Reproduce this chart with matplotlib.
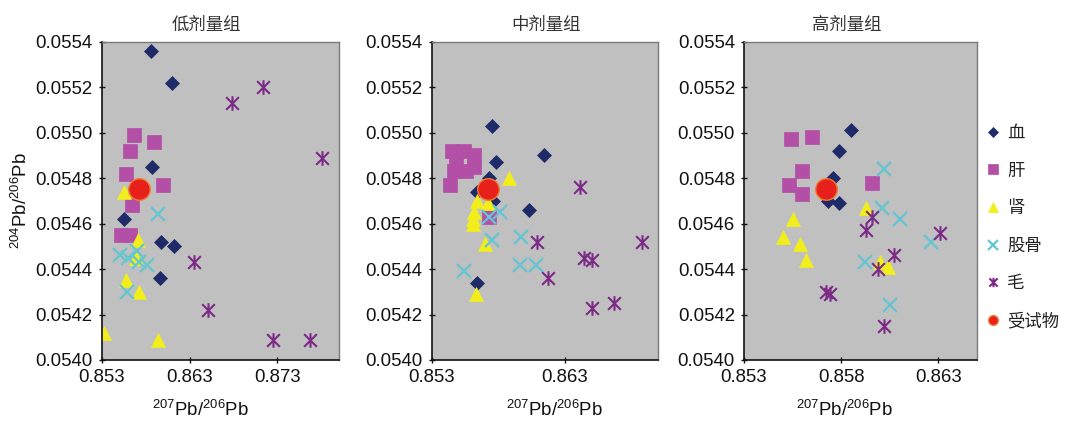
import matplotlib
matplotlib.use("Agg")
import matplotlib.pyplot as plt
from matplotlib.path import Path

plt.rcParams['font.family'] = ['Liberation Sans', 'Noto Sans CJK SC', 'DejaVu Sans']
plt.rcParams['mathtext.fontset'] = 'custom'
plt.rcParams['mathtext.rm'] = 'Liberation Sans'

# ---------------- data ----------------
panel_titles = ["低剂量组", "中剂量组", "高剂量组"]
series_names = ["血", "肝", "肾", "股骨", "毛", "受试物"]

y_ticks = [0.0540, 0.0542, 0.0544, 0.0546, 0.0548, 0.0550, 0.0552, 0.0554]
y_ticklabels = ["0.0540", "0.0542", "0.0544", "0.0546", "0.0548", "0.0550", "0.0552", "0.0554"]

low_xticks = [0.853, 0.863, 0.873]
mid_xticks = [0.853, 0.863]
high_xticks = [0.853, 0.858, 0.863]

# test substance (same in all panels)
test_x = [0.8572]
test_y = [0.05475]

# low dose
low_blood_x = [0.8586, 0.8610, 0.8587, 0.8555, 0.8597, 0.8612, 0.8596]
low_blood_y = [0.05536, 0.05522, 0.05485, 0.05462, 0.05452, 0.05450, 0.05436]
low_liver_x = [0.8567, 0.8589, 0.8562, 0.8558, 0.8600, 0.8564, 0.8552, 0.8562]
low_liver_y = [0.05499, 0.05496, 0.05492, 0.05482, 0.05477, 0.05468, 0.05455, 0.05455]
low_kidney_x = [0.8555, 0.8571, 0.8569, 0.8558, 0.8573, 0.8533, 0.8594]
low_kidney_y = [0.05474, 0.05453, 0.05445, 0.05435, 0.05430, 0.05412, 0.05409]
low_femur_x = [0.8594, 0.8551, 0.8560, 0.8570, 0.8572, 0.8581, 0.8559]
low_femur_y = [0.05464, 0.05446, 0.05445, 0.05448, 0.05443, 0.05442, 0.05430]
low_hair_x = [0.8678, 0.8713, 0.8781, 0.8635, 0.8651, 0.8725, 0.8767]
low_hair_y = [0.05513, 0.05520, 0.05489, 0.05443, 0.05422, 0.05409, 0.05409]

# middle dose
mid_blood_x = [0.8575, 0.8578, 0.8614, 0.8603, 0.8564, 0.8573, 0.8576, 0.8564]
mid_blood_y = [0.05503, 0.05487, 0.05490, 0.05466, 0.05434, 0.05480, 0.05470, 0.05474]
mid_liver_x = [0.8545, 0.8554, 0.8562, 0.8548, 0.8547, 0.8556, 0.8562, 0.8544, 0.8573]
mid_liver_y = [0.05492, 0.05492, 0.05490, 0.05487, 0.05483, 0.05483, 0.05485, 0.05477, 0.05463]
mid_kidney_x = [0.8588, 0.8564, 0.8562, 0.8561, 0.8561, 0.8572, 0.8570, 0.8563]
mid_kidney_y = [0.05480, 0.05470, 0.05465, 0.05462, 0.05460, 0.05469, 0.05451, 0.05429]
mid_femur_x = [0.8581, 0.8575, 0.8597, 0.8554, 0.8596, 0.8608, 0.8573]
mid_femur_y = [0.05465, 0.05453, 0.05454, 0.05439, 0.05442, 0.05442, 0.05463]
mid_hair_x = [0.8641, 0.8609, 0.8644, 0.8650, 0.8617, 0.8650, 0.8667, 0.8688]
mid_hair_y = [0.05476, 0.05452, 0.05445, 0.05444, 0.05436, 0.05423, 0.05425, 0.05452]

# high dose
high_blood_x = [0.8585, 0.8579, 0.8576, 0.8573, 0.8579]
high_blood_y = [0.05501, 0.05492, 0.05480, 0.05470, 0.05469]
high_liver_x = [0.8554, 0.8565, 0.8560, 0.8553, 0.8560, 0.8596]
high_liver_y = [0.05497, 0.05498, 0.05483, 0.05477, 0.05473, 0.05478]
high_kidney_x = [0.8593, 0.8555, 0.8550, 0.8559, 0.8562, 0.8600, 0.8604]
high_kidney_y = [0.05467, 0.05462, 0.05454, 0.05451, 0.05444, 0.05443, 0.05441]
high_femur_x = [0.8602, 0.8601, 0.8610, 0.8626, 0.8592, 0.8605]
high_femur_y = [0.05484, 0.05467, 0.05462, 0.05452, 0.05443, 0.05424]
high_hair_x = [0.8596, 0.8593, 0.8631, 0.8607, 0.8599, 0.8602, 0.8572, 0.8574]
high_hair_y = [0.05463, 0.05457, 0.05456, 0.05446, 0.05440, 0.05415, 0.05430, 0.05429]

# ---------------- styles ----------------
star_path = Path([(-1, -1), (1, 1), (-1, 1), (1, -1), (0, -1.15), (0, 1.15)],
                 [Path.MOVETO, Path.LINETO, Path.MOVETO, Path.LINETO, Path.MOVETO, Path.LINETO])

styles = [
    dict(marker='D', ms=7.3, mfc='#1f2a68', mec='#1f2a68', mew=0.5),
    dict(marker='s', ms=9.4, mfc='#b34fa6', mec='#b34fa6', mew=0.5),
    dict(marker='^', ms=9.8, mfc='#f2ee1c', mec='#f2ee1c', mew=0.5),
    dict(marker='x', ms=9.5, mfc='none', mec='#64c6d0', mew=1.6),
    dict(marker=star_path, ms=10.5, mfc='none', mec='#7b2a86', mew=1.5),
    dict(marker='o', ms=15.5, mfc='#e8201c', mec='#f07a30', mew=1.0),
]
legend_marker_sizes = [5.2, 6.8, 7.2, 6.8, 6.8, 7.0]

W, H = 1066, 422
fig = plt.figure(figsize=(W / 100, H / 100), dpi=100)

panels = [
    dict(rect=(101.7, 339.0), xlim=(0.853, 0.880), xticks=low_xticks,
         data=[(low_blood_x, low_blood_y), (low_liver_x, low_liver_y), (low_kidney_x, low_kidney_y),
               (low_femur_x, low_femur_y), (low_hair_x, low_hair_y), (test_x, test_y)],
         xlab_x=0.414, title_x=0.44),
    dict(rect=(431.7, 658.3), xlim=(0.853, 0.870), xticks=mid_xticks,
         data=[(mid_blood_x, mid_blood_y), (mid_liver_x, mid_liver_y), (mid_kidney_x, mid_kidney_y),
               (mid_femur_x, mid_femur_y), (mid_hair_x, mid_hair_y), (test_x, test_y)],
         xlab_x=0.54, title_x=0.505),
    dict(rect=(744.0, 977.3), xlim=(0.853, 0.865), xticks=high_xticks,
         data=[(high_blood_x, high_blood_y), (high_liver_x, high_liver_y), (high_kidney_x, high_kidney_y),
               (high_femur_x, high_femur_y), (high_hair_x, high_hair_y), (test_x, test_y)],
         xlab_x=0.431, title_x=0.44),
]

top_px, bot_px = 41.7, 360.0
handles = []
for i, p in enumerate(panels):
    l, r = p['rect']
    ax = fig.add_axes([l / W, 1 - bot_px / H, (r - l) / W, (bot_px - top_px) / H])
    ax.set_facecolor('#c0c0c0')
    for (xs, ys), st in zip(p['data'], styles):
        h, = ax.plot(xs, ys, linestyle='none', **st)
        if i == 2:
            handles.append(h)
    ax.set_xlim(*p['xlim'])
    ax.set_ylim(0.0540, 0.0554)
    ax.set_xticks(p['xticks'])
    ax.set_xticklabels([f"{v:.3f}" for v in p['xticks']])
    ax.set_yticks(y_ticks)
    ax.set_yticklabels(y_ticklabels)
    ax.tick_params(direction='inout', length=5, width=1, labelsize=13.4, colors='#111111', pad=4)
    for side in ['left', 'bottom']:
        ax.spines[side].set_color('#111111')
        ax.spines[side].set_linewidth(1.2)
    for side in ['top', 'right']:
        ax.spines[side].set_color('#7a7a7a')
        ax.spines[side].set_linewidth(1.0)
    ax.set_xlabel(r'$\mathregular{^{207}Pb/^{206}Pb}$', fontsize=13.4, color='#111111')
    ax.xaxis.set_label_coords(p['xlab_x'], -0.125)
    if i == 0:
        ax.set_ylabel(r'$\mathregular{^{204}Pb/^{206}Pb}$', fontsize=13.4, color='#111111')
        ax.yaxis.set_label_coords(-0.30, 0.5)
    ax.text(p['title_x'], 1.054, panel_titles[i], transform=ax.transAxes, ha='center', va='center',
            fontsize=12.5, color='#333333', family=['Noto Sans CJK SC', 'DejaVu Sans'])

leg = fig.legend(handles, series_names, loc='center left', bbox_to_anchor=(970 / W, 1 - 227 / H),
                 frameon=False, handlelength=0.9, handletextpad=0.35,
                 labelspacing=1.13, prop={'family': ['Noto Sans CJK SC', 'DejaVu Sans'], 'size': 12.5})
for lh, ms in zip(leg.legend_handles, legend_marker_sizes):
    lh.set_markersize(ms)
for t in leg.get_texts():
    t.set_color('#222222')

fig.savefig('out.png', dpi=100)
